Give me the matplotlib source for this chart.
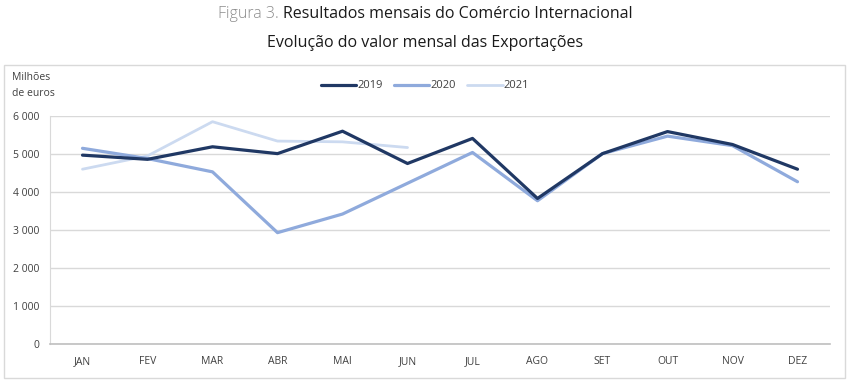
import matplotlib
matplotlib.use("Agg")
import matplotlib.pyplot as plt
from matplotlib.patches import Rectangle

plt.rcParams['font.family'] = ['Open Sans', 'DejaVu Sans']

months = ["JAN", "FEV", "MAR", "ABR", "MAI", "JUN", "JUL", "AGO", "SET", "OUT", "NOV", "DEZ"]
v2019 = [4970, 4860, 5190, 5010, 5600, 4750, 5410, 3830, 5010, 5590, 5250, 4600]
v2020 = [5150, 4880, 4530, 2930, 3420, 4230, 5040, 3770, 5010, 5470, 5220, 4270]
v2021 = [4600, 4950, 5850, 5340, 5320, 5170]
yticks = [0, 1000, 2000, 3000, 4000, 5000, 6000]
ytick_labels = ["0", "1 000", "2 000", "3 000", "4 000", "5 000", "6 000"]

W, H = 850, 384
fig = plt.figure(figsize=(W/100, H/100), dpi=100)
ax = fig.add_axes([50/W, 1-344/H, (830-50)/W, (344-116)/H])

x = list(range(len(months)))
ax.plot(x, v2019, color="#203864", lw=2.3, label="2019", solid_capstyle="round", zorder=4)
ax.plot(x, v2020, color="#8FAADC", lw=2.3, label="2020", solid_capstyle="round", zorder=3)
ax.plot(range(len(v2021)), v2021, color="#CCDAF0", lw=2.0, label="2021", solid_capstyle="round", zorder=2)

ax.set_xlim(-0.5, 11.5)
ax.set_ylim(0, 6000)
ax.set_xticks(x)
ax.set_xticklabels(months, fontsize=7.5, color="#404040")
ax.set_yticks(yticks)
ax.set_yticklabels(ytick_labels, fontsize=7.5, color="#404040")
ax.tick_params(length=0, pad=8)
ax.tick_params(axis='x', pad=9)
ax.grid(axis='y', color="#D9D9D9", lw=1)
ax.set_axisbelow(True)
for s in ["top", "right"]:
    ax.spines[s].set_visible(False)
ax.spines["left"].set_color("#D9D9D9")
ax.spines["bottom"].set_color("#BFBFBF")
ax.spines["bottom"].set_linewidth(1.2)

leg = fig.legend(loc="center", bbox_to_anchor=(425/W, 1-86/H), ncol=3, frameon=False,
                 fontsize=8, handlelength=3.2, handletextpad=0.1, columnspacing=1.0)
for t in leg.get_texts():
    t.set_color("#404040")

fig.text(12/W, 1-78/H, "Milhões", fontsize=7.5, color="#404040", va="center")
fig.text(12/W, 1-93/H, "de euros", fontsize=7.5, color="#404040", va="center")

fig.add_artist(Rectangle((4/W, 1-378/H), (845-4)/W, (378-65)/H, transform=fig.transFigure,
                         fill=False, edgecolor="#D9D9D9", lw=1))

# Title
fig.canvas.draw()
r = fig.canvas.get_renderer()
t1 = fig.text(0, 1-14/H, "Figura 3. ", fontsize=11.5, color="#8C8C8C", va="center", fontweight="light")
t2 = fig.text(0, 1-14/H, "Resultados mensais do Comércio Internacional", fontsize=11.5, color="#1a1a1a", va="center")
w1 = t1.get_window_extent(r).width
w2 = t2.get_window_extent(r).width
start = 425 - (w1 + w2) / 2
t1.set_x(start / W)
t2.set_x((start + w1) / W)
fig.text(425/W, 1-43/H, "Evolução do valor mensal das Exportações", fontsize=11.5, color="#1a1a1a",
         va="center", ha="center")

fig.savefig("out.png", dpi=100)
